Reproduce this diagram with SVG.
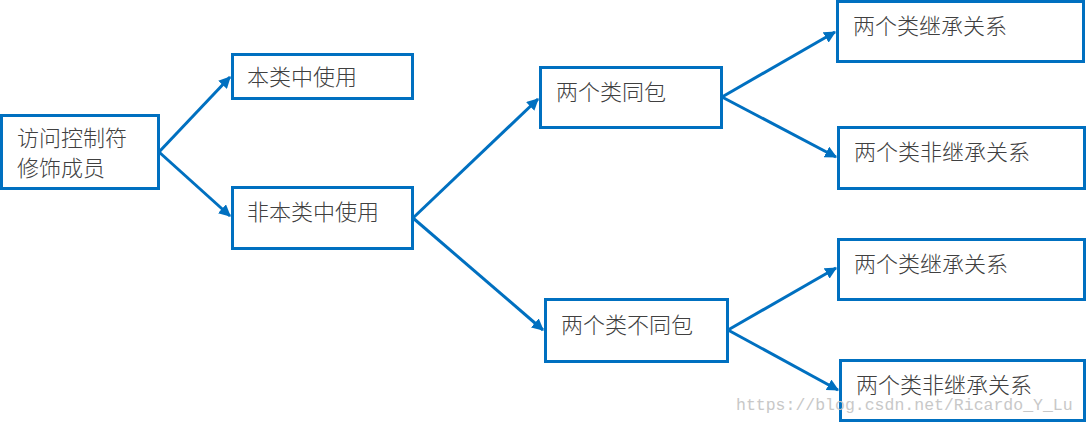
<svg xmlns="http://www.w3.org/2000/svg" width="1087" height="424" viewBox="0 0 1087 424">
<style>
.n rect{fill:#fff;stroke:#0070C0;stroke-width:3}
.n text{font-family:"Noto Sans CJK SC","Liberation Sans",sans-serif;font-size:22px;font-weight:300;fill:#404040}
#edges line{stroke:#0070C0;stroke-width:3;marker-end:url(#a)}
.wm{font-family:"Liberation Mono",monospace;font-size:16.5px;fill:#c8c8c8}
</style>
<defs><marker id="a" viewBox="0 0 10 10" refX="9" refY="5" markerWidth="4" markerHeight="4" orient="auto"><path d="M0,0L10,5L0,10z" fill="#0070C0"/></marker></defs>
<rect width="1087" height="424" fill="#fff"/>
<g id="edges">
<line x1="159" y1="152" x2="230" y2="77"/>
<line x1="159" y1="152" x2="230" y2="216"/>
<line x1="413" y1="218" x2="538" y2="99"/>
<line x1="413" y1="218" x2="543" y2="330"/>
<line x1="722" y1="97" x2="835" y2="32"/>
<line x1="722" y1="97" x2="836" y2="157"/>
<line x1="728" y1="330" x2="836" y2="268"/>
<line x1="728" y1="330" x2="838" y2="390"/>
</g>
<g id="n1" class="n"><rect x="1.5" y="115.5" width="157" height="73"/><text x="17" y="146" font-size="21">访问控制符</text><text x="17" y="176" font-size="21">修饰成员</text></g>
<g id="n2" class="n"><rect x="232.5" y="54.5" width="180" height="44"/><text x="247" y="85">本类中使用</text></g>
<g id="n3" class="n"><rect x="232.5" y="187.5" width="180" height="61"/><text x="247" y="220">非本类中使用</text></g>
<g id="n4" class="n"><rect x="540.5" y="67.5" width="181" height="60"/><text x="556" y="100">两个类同包</text></g>
<g id="n5" class="n"><rect x="545.5" y="299.5" width="182" height="62"/><text x="561" y="333">两个类不同包</text></g>
<g id="n6" class="n"><rect x="837.5" y="1.5" width="246" height="60"/><text x="853" y="34">两个类继承关系</text></g>
<g id="n7" class="n"><rect x="838.5" y="127.5" width="246" height="61"/><text x="854" y="160">两个类非继承关系</text></g>
<g id="n8" class="n"><rect x="838.5" y="239.5" width="246" height="60"/><text x="854" y="272">两个类继承关系</text></g>
<g id="n9" class="n"><rect x="840.5" y="360.5" width="244" height="60"/><text x="856" y="393">两个类非继承关系</text></g>
<text class="wm" x="736" y="410">https://blog.csdn.net/Ricardo_Y_Lu</text>
</svg>
